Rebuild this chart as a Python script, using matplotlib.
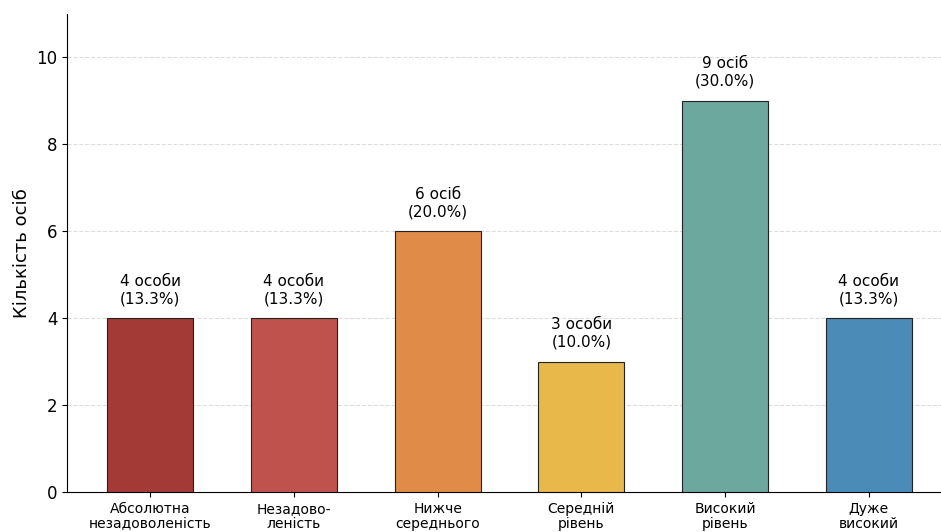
import matplotlib
matplotlib.use("Agg")
import matplotlib.pyplot as plt

categories = ["Абсолютна\nнезадоволеність", "Незадово-\nленість", "Нижче\nсереднього",
              "Середній\nрівень", "Високий\nрівень", "Дуже\nвисокий"]
counts = [4, 4, 6, 3, 9, 4]
bar_labels = ["4 особи", "4 особи", "6 осіб", "3 особи", "9 осіб", "4 особи"]
percents = [13.3, 13.3, 20.0, 10.0, 30.0, 13.3]
colors = ["#A33A36", "#C0524E", "#E08B48", "#E8B84B", "#6DA89F", "#4A8BB8"]

fig = plt.figure(figsize=(9.41, 5.32), dpi=100)
ax = fig.add_axes([67/941, 40/532, 885/941, 478/532])
x = list(range(len(categories)))
bars = ax.bar(x, counts, width=0.6, color=colors, edgecolor="#222222", linewidth=0.8, zorder=3)
for xi, c, lab, p in zip(x, counts, bar_labels, percents):
    ax.text(xi, c + 0.28, f"{lab}\n({p:.1f}%)", ha="center", va="bottom", fontsize=11, linespacing=1.2)

ax.set_xlim(-0.58, 5.58)
ax.set_ylim(0, 11)
ax.set_yticks([0, 2, 4, 6, 8, 10])
ax.set_xticks(x)
ax.set_xticklabels(categories, fontsize=10, linespacing=1.15)
ax.tick_params(axis="y", labelsize=12)
ax.set_ylabel("Кількість осіб", fontsize=13)
ax.grid(axis="y", linestyle="--", color="#dddddd", linewidth=0.8, zorder=0)
ax.spines["top"].set_visible(False)
ax.spines["right"].set_visible(False)
fig.savefig("out.png", dpi=100)
